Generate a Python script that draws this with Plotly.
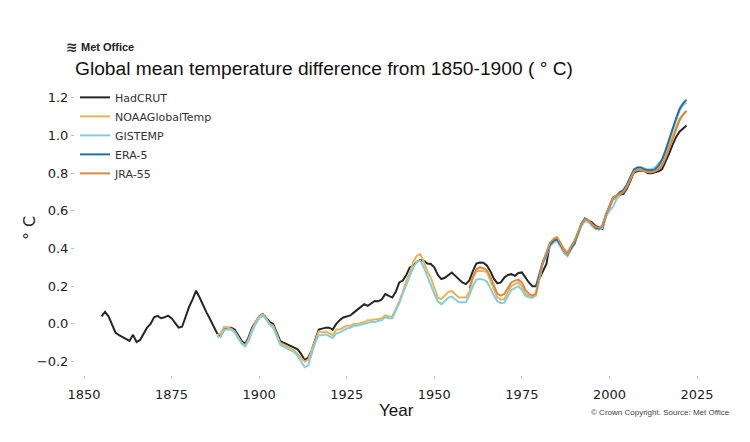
import plotly.graph_objects as go

# ---- data (smoothed anomalies, °C) ----
hadcrut_start = 1855
hadcrut = [0.04, 0.064, 0.04, 0.0, -0.046, -0.06, -0.07, -0.08, -0.09, -0.058,
           -0.096, -0.085, -0.05, -0.02, 0.0, 0.035, 0.043, 0.03, 0.035, 0.044,
           0.03, 0.005, -0.02, -0.015, 0.04, 0.09, 0.13, 0.176, 0.14, 0.095,
           0.06, 0.025, -0.01, -0.05, -0.065, -0.03, -0.02, -0.02, -0.03, -0.06,
           -0.09, -0.108, -0.07, -0.02, 0.01, 0.04, 0.052, 0.03, 0.01, 0.0,
           -0.05, -0.09, -0.1, -0.11, -0.12, -0.126, -0.135, -0.16, -0.193, -0.179,
           -0.14, -0.08, -0.03, -0.025, -0.02, -0.02, -0.03, 0.0, 0.02, 0.034,
           0.04, 0.045, 0.06, 0.075, 0.09, 0.105, 0.096, 0.11, 0.122, 0.12,
           0.13, 0.158, 0.15, 0.14, 0.17, 0.22, 0.23, 0.26, 0.3, 0.31,
           0.33, 0.339, 0.335, 0.32, 0.318, 0.3, 0.26, 0.238, 0.245, 0.26,
           0.273, 0.255, 0.235, 0.22, 0.211, 0.23, 0.28, 0.32, 0.326, 0.325,
           0.31, 0.28, 0.24, 0.215, 0.22, 0.246, 0.26, 0.264, 0.255, 0.27,
           0.273, 0.245, 0.22, 0.2, 0.2, 0.24, 0.28, 0.318, 0.424, 0.44,
           0.45, 0.42, 0.38, 0.362, 0.4, 0.424, 0.48, 0.53, 0.557, 0.55,
           0.539, 0.52, 0.51, 0.504, 0.574, 0.62, 0.663, 0.67, 0.685, 0.69,
           0.72, 0.76, 0.805, 0.81, 0.814, 0.81, 0.8, 0.8, 0.805, 0.81,
           0.82, 0.86, 0.902, 0.95, 0.991, 1.02, 1.036, 1.053]

noaa_start = 1888
noaa = [-0.06, -0.05, -0.015, -0.02, -0.025, -0.04, -0.07, -0.1, -0.115, -0.08,
        -0.03, 0.01, 0.04, 0.05, 0.03, 0.0, -0.01, -0.06, -0.1, -0.11,
        -0.12, -0.13, -0.14, -0.16, -0.18, -0.2, -0.19, -0.14, -0.08, -0.04,
        -0.045, -0.04, -0.05, -0.06, -0.03, -0.03, -0.02, -0.01, -0.01, 0.0,
        0.0, 0.005, 0.01, 0.02, 0.02, 0.025, 0.025, 0.03, 0.045, 0.04,
        0.04, 0.08, 0.12, 0.17, 0.23, 0.27, 0.33, 0.36, 0.37, 0.33,
        0.28, 0.246, 0.19, 0.14, 0.131, 0.15, 0.17, 0.175, 0.16, 0.14,
        0.14, 0.14, 0.17, 0.24, 0.28, 0.282, 0.28, 0.275, 0.23, 0.18,
        0.14, 0.13, 0.131, 0.17, 0.2, 0.211, 0.22, 0.2, 0.16, 0.15,
        0.14, 0.15, 0.25, 0.33, 0.37, 0.42, 0.44, 0.46, 0.43, 0.4,
        0.38, 0.41, 0.44, 0.48, 0.52, 0.55, 0.545, 0.52, 0.51, 0.505,
        0.52, 0.58, 0.62, 0.66, 0.675, 0.69, 0.7, 0.73, 0.77, 0.81,
        0.82, 0.82, 0.815, 0.81, 0.81, 0.815, 0.83, 0.85, 0.9, 0.95,
        1.0, 1.05, 1.09, 1.11, 1.13]

gistemp_start = 1888
gistemp = [-0.07, -0.065, -0.03, -0.03, -0.03, -0.045, -0.075, -0.105, -0.12, -0.09,
           -0.04, 0.0, 0.03, 0.045, 0.025, -0.005, -0.02, -0.07, -0.11, -0.12,
           -0.13, -0.14, -0.15, -0.17, -0.2, -0.23, -0.22, -0.16, -0.1, -0.06,
           -0.06, -0.055, -0.065, -0.075, -0.05, -0.045, -0.035, -0.025, -0.02, -0.01,
           -0.01, -0.005, 0.0, 0.005, 0.01, 0.01, 0.015, 0.02, 0.035, 0.03,
           0.03, 0.07, 0.11, 0.16, 0.21, 0.25, 0.3, 0.33, 0.335, 0.3,
           0.25, 0.21, 0.16, 0.12, 0.105, 0.12, 0.14, 0.145, 0.13, 0.115,
           0.115, 0.115, 0.15, 0.2, 0.235, 0.238, 0.235, 0.225, 0.19, 0.15,
           0.12, 0.11, 0.113, 0.15, 0.18, 0.19, 0.2, 0.18, 0.15, 0.14,
           0.14, 0.16, 0.24, 0.32, 0.36, 0.41, 0.43, 0.44, 0.41, 0.38,
           0.36, 0.39, 0.43, 0.47, 0.52, 0.545, 0.54, 0.52, 0.505, 0.5,
           0.51, 0.57, 0.6, 0.62, 0.66, 0.69, 0.71, 0.74, 0.78, 0.82,
           0.83, 0.83, 0.825, 0.82, 0.82, 0.83, 0.85, 0.87, 0.92, 0.97,
           1.03, 1.08, 1.13, 1.16, 1.175]

era5_start = 1979
era5 = [0.2, 0.26, 0.33, 0.37, 0.42, 0.44, 0.45, 0.42, 0.39, 0.37,
        0.4, 0.43, 0.48, 0.53, 0.56, 0.55, 0.53, 0.51, 0.505, 0.52,
        0.58, 0.63, 0.67, 0.68, 0.7, 0.71, 0.74, 0.78, 0.82, 0.83,
        0.83, 0.82, 0.815, 0.815, 0.82, 0.84, 0.87, 0.92, 0.98, 1.04,
        1.09, 1.14, 1.17, 1.19]

jra55_start = 1960
jra55 = [0.19, 0.25, 0.29, 0.3, 0.295, 0.285, 0.25, 0.2, 0.16, 0.15,
         0.16, 0.19, 0.22, 0.23, 0.235, 0.22, 0.18, 0.16, 0.15, 0.16,
         0.24, 0.33, 0.38, 0.43, 0.45, 0.46, 0.43, 0.39, 0.37, 0.41,
         0.44, 0.49, 0.53, 0.555, 0.55, 0.53, 0.515, 0.51, 0.52, 0.58,
         0.63, 0.67, 0.68, 0.69, 0.7, 0.73, 0.77, 0.81, 0.815, 0.815,
         0.81, 0.805, 0.805, 0.81, 0.82, 0.84, 0.88, 0.93, 0.99, 1.04,
         1.08, 1.11, 1.13]

x_ticks = [1850, 1875, 1900, 1925, 1950, 1975, 2000, 2025]
y_ticks = [-0.2, 0.0, 0.2, 0.4, 0.6, 0.8, 1.0, 1.2]
y_tick_text = ["\u22120.2", "0.0", "0.2", "0.4", "0.6", "0.8", "1.0", "1.2"]

series = [
    ("HadCRUT", hadcrut_start, hadcrut, "#262626"),
    ("NOAAGlobalTemp", noaa_start, noaa, "#EBB44F"),
    ("GISTEMP", gistemp_start, gistemp, "#86CCE0"),
    ("ERA-5", era5_start, era5, "#2271A6"),
    ("JRA-55", jra55_start, jra55, "#D98A45"),
]

fig = go.Figure()
for name, start, vals, color in series:
    years = list(range(start, start + len(vals)))
    fig.add_trace(go.Scatter(x=years, y=vals, mode="lines", name=name,
                             line=dict(color=color, width=2)))

tick_font = dict(family="DejaVu Sans", size=13, color="#222")
fig.update_layout(
    width=750, height=442,
    margin=dict(l=75, r=35, t=90, b=67),
    paper_bgcolor="white", plot_bgcolor="white",
    showlegend=True,
    legend=dict(x=0.0, y=1.025, xanchor="left", yanchor="top",
                bgcolor="rgba(0,0,0,0)", font=dict(family="DejaVu Sans", size=11, color="#333"),
                tracegroupgap=0, itemwidth=30),
    title=dict(text="Global mean temperature difference from 1850-1900 ( \u00b0 C)",
               x=75/750, xanchor="left", xref="container",
               y=1 - 68/442, yanchor="middle", yref="container",
               font=dict(family="Liberation Sans, Arial", size=19.2, color="#111")),
    xaxis=dict(range=[1847.43, 2030.13], tickvals=x_ticks, showgrid=False, zeroline=False,
               showline=False, ticks="outside", ticklen=3, tickcolor="#bbb",
               tickfont=tick_font, ticklabelstandoff=4),
    yaxis=dict(range=[-0.271, 1.241], tickvals=y_ticks, ticktext=y_tick_text,
               showgrid=False, zeroline=False, showline=False,
               ticks="outside", ticklen=3, tickcolor="#bbb", tickfont=tick_font),
)

fig.add_annotation(text="\u00b0 C", textangle=-90, xref="paper", yref="paper",
                   x=(29 - 75) / 640, y=(375 - 228) / 285, showarrow=False,
                   xanchor="center", yanchor="middle",
                   font=dict(family="DejaVu Sans", size=16, color="#222"))
fig.add_annotation(text="Year", xref="paper", yref="paper",
                   x=(396 - 75) / 640, y=(375 - 410) / 285, showarrow=False,
                   xanchor="center", yanchor="middle",
                   font=dict(family="Liberation Sans, Arial", size=17, color="#111"))
fig.add_annotation(text="\u00a9 Crown Copyright. Source: Met Office", xref="paper", yref="paper",
                   x=(660 - 75) / 640, y=(375 - 412) / 285, showarrow=False,
                   xanchor="center", yanchor="middle",
                   font=dict(family="Liberation Sans, Arial", size=8, color="#444"))
fig.add_annotation(text="<b>\u224b</b>", xref="paper", yref="paper",
                   x=(64 - 75) / 640, y=(375 - 47) / 285, showarrow=False,
                   xanchor="left", yanchor="middle",
                   font=dict(family="DejaVu Sans", size=14, color="#333"))
fig.add_annotation(text="<b>Met Office</b>", xref="paper", yref="paper",
                   x=(79 - 75) / 640, y=(375 - 47) / 285, showarrow=False,
                   xanchor="left", yanchor="middle",
                   font=dict(family="Liberation Sans, Arial", size=11, color="#222"))

fig.write_html("out.html", config={"displayModeBar": False},
               post_script="document.body.style.margin='0';")
